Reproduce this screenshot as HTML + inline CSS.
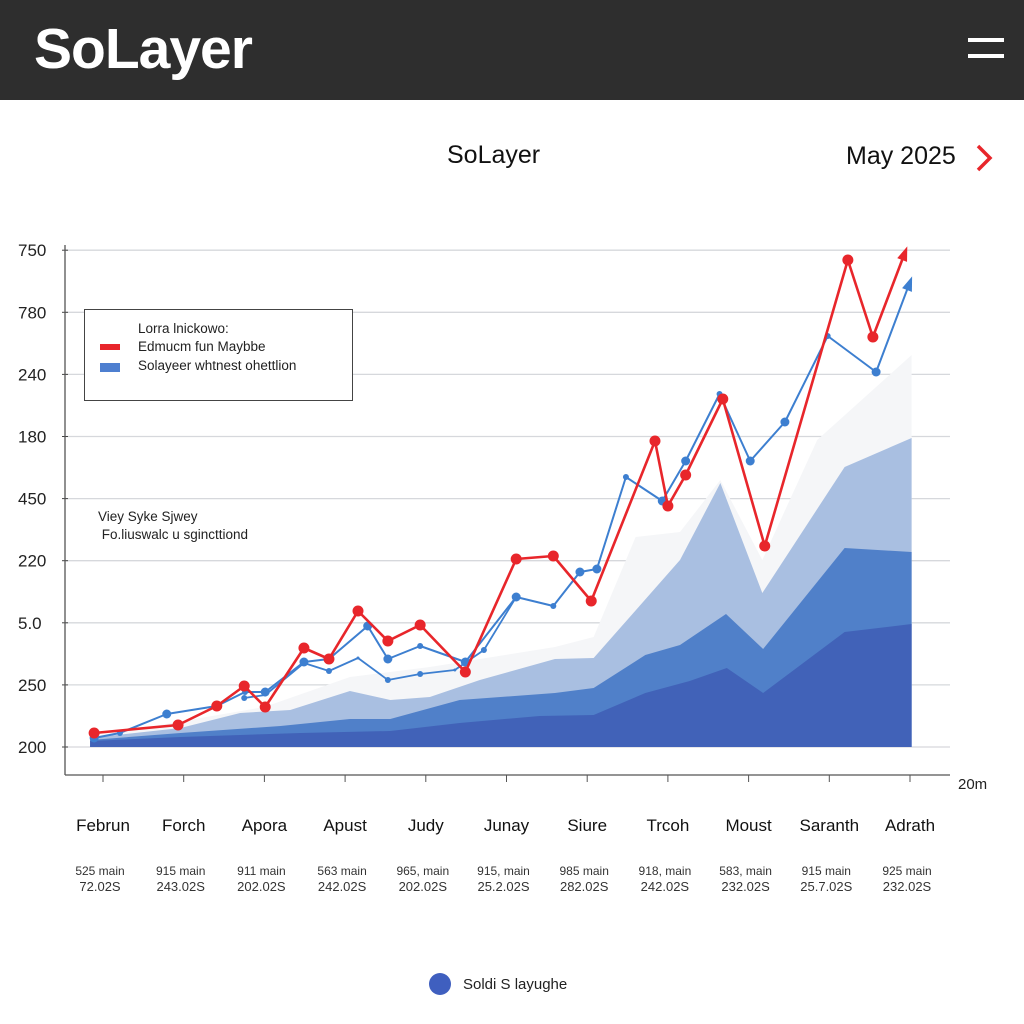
<!DOCTYPE html>
<html><head><meta charset="utf-8"><style>
body{margin:0;width:1024px;height:1024px;background:#fff;font-family:"Liberation Sans",sans-serif;overflow:hidden;position:relative}
.hdr{position:absolute;left:0;top:0;width:1024px;height:100px;background:#2e2e2e}
.abs{position:absolute}
</style></head><body>
<div class="hdr">
 <div class="abs" style="left:34px;top:16px;color:#fff;font-size:57px;font-weight:bold;letter-spacing:-1px">SoLayer</div>
 <div class="abs" style="left:968px;top:38px;width:36px;height:24px">
  <div style="height:4px;background:#fff;margin-bottom:12px"></div><div style="height:4px;background:#fff"></div></div>
</div>
<div class="abs" style="left:447px;top:141px;font-size:25px;color:#111;font-weight:500">SoLayer</div>
<div class="abs" style="left:846px;top:142px;font-size:25px;color:#111">May 2025</div>
<svg class="abs" style="left:972px;top:142px" width="26" height="32"><path d="M6 4 L18 16 L6 28" stroke="#e8262b" stroke-width="3.5" fill="none"/></svg>
<svg id="chart" class="abs" style="left:0;top:0" width="1024" height="1024"></svg>
<svg class="abs" style="left:428px;top:972px" width="24" height="24"><circle cx="12" cy="12" r="11" fill="#3f5fbf"/></svg>
<div class="abs" style="left:463px;top:976px;font-size:15px;color:#222">Soldi S layughe</div>
<script>
const months=["Februn","Forch","Apora","Apust","Judy","Junay","Siure","Trcoh","Moust","Saranth","Adrath"];
const sub1=["525 main","915 main","911 main","563 main","965, main","915, main","985 main","918, main","583, main","915 main","925 main"];
const sub2=["72.02S","243.02S","202.02S","242.02S","202.02S","25.2.02S","282.02S","242.02S","232.02S","25.7.02S","232.02S"];
const yTicks=["200","250","5.0","220","450","180","240","780","750"];
const redX=[-0.11,0.93,1.41,1.75,2.01,2.49,2.80,3.16,3.53,3.93,4.49,5.12,5.58,6.05,6.84,7.00,7.22,7.68,8.20,9.23,9.54,9.94];
const redV=[14,22,41,61,40,99,88,136,106,122,75,188,191,146,306,241,272,348,201,487,410,495];
const blueX=[-0.11,0.21,0.79,1.41,1.76,2.01,2.49,2.80,3.28,3.53,3.93,4.49,5.12,5.58,5.91,6.12,6.48,6.93,7.22,7.64,8.02,8.45,8.98,9.58,10.0];
const blueV=[9,14,33,41,55,55,85,88,121,88,101,85,150,141,175,178,270,246,286,353,286,325,411,375,465];
const blue2X=[1.75,2.01,2.49,2.80,3.16,3.53,3.93,4.36,4.72,5.12];
const blue2V=[49,52,84,76,89,67,73,77,97,150];
const hazeX=[-0.16,2.0,3.06,4.05,5.6,6.08,6.6,7.15,7.65,8.17,8.85,10.02];
const hazeV=[10,40,70,80,100,110,210,215,267,187,307,392];
const lightX=[-0.16,0.96,1.7,2.32,3.06,3.56,4.05,4.67,5.6,6.08,7.15,7.65,8.17,9.19,10.02];
const lightV=[9,19,34,37,56,47,50,67,88,89,187,264,154,280,309];
const midX=[-0.16,0.96,2.2,3.06,3.56,4.42,5.6,6.08,6.72,7.15,7.72,8.18,9.19,10.02];
const midV=[7,14,21,28,28,47,54,59,92,102,133,98,199,195];
const darkX=[-0.16,0.96,2.45,3.56,4.42,5.41,6.08,6.72,7.27,7.73,8.18,9.19,10.02];
const darkV=[6,10,14,16,24,31,32,54,66,79,54,115,123];

const svg=document.getElementById('chart');const NS="http://www.w3.org/2000/svg";
const xs=v=>103+v*80.7, ys=v=>747-v;
function mk(t,a,p){const e=document.createElementNS(NS,t);for(const k in a)e.setAttribute(k,a[k]);(p||svg).appendChild(e);return e;}
yTicks.forEach((t,i)=>{const y=747-i*62.1;
 const g=mk('line',{x1:65,x2:950,y1:y,y2:y,stroke:'#d6d8dc','stroke-width':1.3});
 
 const tk=mk('line',{x1:62,x2:68,y1:y,y2:y,stroke:'#444'});
 
 const tx=mk('text',{x:18,y:y+6,'font-size':17,fill:'#222'});tx.textContent=t;
 
});
function area(X,V,fill,name){let d=`M${xs(X[0])},747`;X.forEach((x,i)=>d+=` L${xs(x)},${ys(V[i])}`);d+=` L${xs(X[X.length-1])},747Z`;
 const p=mk('path',{d,fill});}
area(hazeX,hazeV,'#f5f6f8','area-haze');
area(lightX,lightV,'#a9bfe1','area-light');
area(midX,midV,'#5080c9','area-mid');
area(darkX,darkV,'#4162b8','area-dark');
const ax=mk('line',{x1:65,x2:950,y1:775,y2:775,stroke:'#555','stroke-width':1.3});
const ay=mk('line',{x1:65,x2:65,y1:245,y2:775,stroke:'#555','stroke-width':1.3});
months.forEach((m,i)=>{const x=xs(i);
 const tk=mk('line',{x1:x,x2:x,y1:775,y2:782,stroke:'#555'});
 const t=mk('text',{x:x,y:831,'font-size':17,'text-anchor':'middle',fill:'#111'});t.textContent=m;
 const s1=mk('text',{x:x-3,y:875,'font-size':12,'text-anchor':'middle',fill:'#333'});s1.textContent=sub1[i];
 const s2=mk('text',{x:x-3,y:891,'font-size':13,'text-anchor':'middle',fill:'#333'});s2.textContent=sub2[i];
});
const um=mk('text',{x:958,y:789,'font-size':15,fill:'#222'});um.textContent='20m';
function line(X,V,col,w,r,name,arrow){const n=arrow?X.length-1:X.length;
 const pts=X.map((x,i)=>xs(x)+','+ys(V[i])).join(' ');
 const pl=mk('polyline',{points:pts,fill:'none',stroke:col,'stroke-width':w,'stroke-linejoin':'round'});
 for(let i=0;i<n;i++){const c=mk('circle',{cx:xs(X[i]),cy:ys(V[i]),r:(i%3==1&&r<5)?r-1.5:r,fill:col});}
 if(arrow){const k=X.length-1,x2=xs(X[k]),y2=ys(V[k]),x1=xs(X[k-1]),y1=ys(V[k-1]);const a=Math.atan2(y2-y1,x2-x1);
  const p=(d,o)=>(x2+Math.cos(a+o)*d)+','+(y2+Math.sin(a+o)*d);
  const ah=mk('polygon',{points:`${p(6,0)} ${p(-10,0.55)} ${p(-10,-0.55)}`,fill:col});}
}
line(blue2X,blue2V,'#3d7fd0',1.8,3,'blue-series-2',false);
line(blueX,blueV,'#3d7fd0',2,4.5,'blue-series',true);
line(redX,redV,'#e8262b',2.6,5.5,'red-series',true);
</script>
<div class="abs" style="left:84px;top:309px;width:267px;height:90px;border:1.5px solid #444;background:#fff;font-size:13.5px;color:#222">
 <div style="position:absolute;left:53px;top:11px">Lorra lnickowo:</div>
 <div style="position:absolute;left:15px;top:34px;width:20px;height:6px;background:#e8262b"></div>
 <div style="position:absolute;left:53px;top:29px">Edmucm fun Maybbe</div>
 <div style="position:absolute;left:15px;top:53px;width:20px;height:9px;background:#4e7fd0"></div>
 <div style="position:absolute;left:53px;top:48px">Solayeer whtnest ohettlion</div>
</div>
<div class="abs" style="left:98px;top:508px;font-size:13.5px;color:#222;line-height:18px">Viey Syke Sjwey<br>&nbsp;Fo.liuswalc u sgincttiond</div>
</body></html>
